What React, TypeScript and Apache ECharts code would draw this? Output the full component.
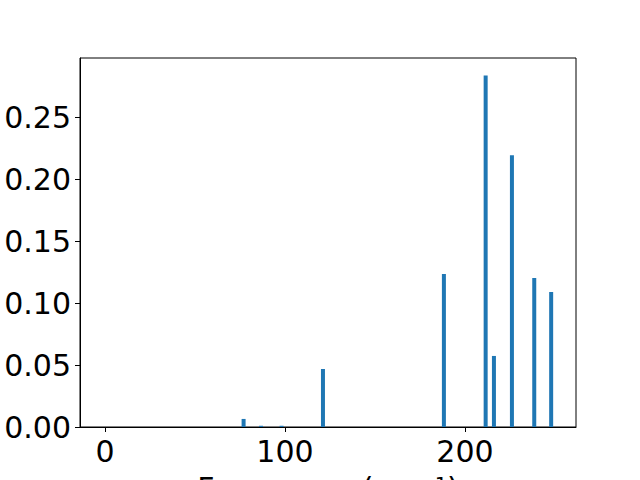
import React, { useEffect, useRef } from "react";
import * as echarts from "echarts";

const frequencies = [77.0, 86.7, 98.1, 121.1, 188.3, 211.5, 216.1, 226.1, 238.5, 247.9];
const intensities = [0.0065, 0.001, 0.001, 0.0468, 0.1234, 0.2835, 0.0573, 0.2192, 0.1202, 0.1089];
const xTicks = [0, 100, 200];
const yTicks = [0, 0.05, 0.1, 0.15, 0.2, 0.25];

export default function App() {
  const ref = useRef<HTMLDivElement>(null);
  useEffect(() => {
    if (!ref.current) return;
    const chart = echarts.init(ref.current, null, { renderer: "svg" });
    const font = "DejaVu Sans";
    chart.setOption({
      animation: false,
      backgroundColor: "#ffffff",
      grid: {
        left: 80,
        right: 64,
        top: 58,
        bottom: 53,
        show: true,
        borderColor: "#000000",
        borderWidth: 1,
        containLabel: false,
        outerBoundsMode: "none",
      },
      xAxis: {
        type: "value",
        min: -13.9,
        max: 261.7,
        name: "Frequency (cm⁻¹)",
        nameLocation: "middle",
        nameGap: 46,
        nameTextStyle: { fontFamily: font, fontSize: 30, color: "#000" },
        splitLine: { show: false },
        axisLine: { show: true, onZero: false, lineStyle: { color: "#000", width: 1 } },
        axisTick: { show: true, length: 5, inside: false, customValues: xTicks, lineStyle: { color: "#000" } },
        axisLabel: {
          customValues: xTicks,
          margin: 9,
          fontFamily: font,
          fontSize: 30,
          color: "#000",
        },
      },
      yAxis: {
        type: "value",
        min: 0,
        max: 0.2976,
        splitLine: { show: false },
        axisLine: { show: true, onZero: false, lineStyle: { color: "#000", width: 1 } },
        axisTick: { show: true, length: 5, inside: false, customValues: yTicks, lineStyle: { color: "#000" } },
        axisLabel: {
          customValues: yTicks,
          margin: 9,
          fontFamily: font,
          fontSize: 30,
          color: "#000",
          formatter: (v: number) => v.toFixed(2),
        },
      },
      series: [
        {
          type: "bar",
          data: frequencies.map((f, i) => [f, intensities[i]]),
          barWidth: 4,
          itemStyle: { color: "#1f77b4" },
        },
      ],
    });
    return () => chart.dispose();
  }, []);
  return <div ref={ref} style={{ width: 640, height: 480, position: "absolute", left: 0, top: 0 }} />;
}
